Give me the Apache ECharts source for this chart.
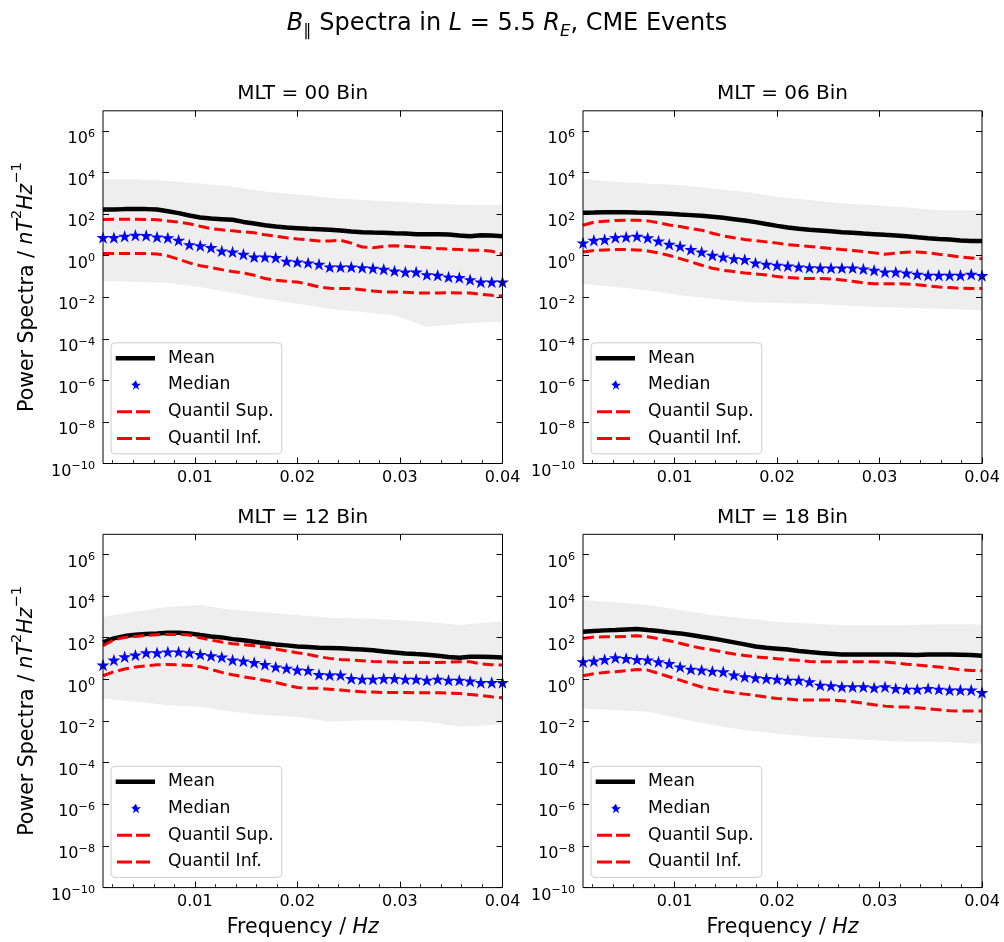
<!DOCTYPE html>
<html>
<head>
<meta charset="utf-8">
<script src="https://cdn.jsdelivr.net/npm/echarts@6/dist/echarts.min.js"></script>
<style>
  html, body { margin: 0; padding: 0; background: #ffffff; }
  #chart { width: 1004px; height: 942px; }
</style>
</head>
<body>
<div id="chart"></div>
<script>
// ---- Frequency bins (Hz) ----
const freq = [0.00105, 0.00211, 0.00316, 0.00421, 0.00526, 0.00632, 0.00737, 0.00842, 0.00947, 0.01053,
              0.01158, 0.01263, 0.01368, 0.01474, 0.01579, 0.01684, 0.01789, 0.01895, 0.02000, 0.02105,
              0.02211, 0.02316, 0.02421, 0.02526, 0.02632, 0.02737, 0.02842, 0.02947, 0.03053, 0.03158,
              0.03263, 0.03368, 0.03474, 0.03579, 0.03684, 0.03789, 0.03895, 0.04000];
// frequencies at which the envelope of the individual event spectra is sampled
const bandFreq = [0.00105, 0.00421, 0.00737, 0.01053, 0.01368, 0.01684, 0.02000,
                  0.02316, 0.02632, 0.02947, 0.03263, 0.03579, 0.03895, 0.04000];

// ---- Tick values / labels ----
const xMajorTicks = [0.01, 0.02, 0.03, 0.04];
const xMinorTicks = [0.002, 0.004, 0.006, 0.008, 0.012, 0.014, 0.016, 0.018, 0.022, 0.024, 0.026, 0.028,
                     0.032, 0.034, 0.036, 0.038];
const yTicks = [1e-10, 1e-8, 1e-6, 1e-4, 1e-2, 1, 1e2, 1e4, 1e6];
const mltBins = ['00', '06', '12', '18'];

// ---- MLT 00 ----
const mean00 = [166,166,173,173,173,166,138,111,85,68,61,57,53,42,35,29,25,22.5,21,19.5,18.7,17.4,16.2,14.5,13.4,12.9,12.5,12.0,11.6,10.8,10.8,10.8,10.4,9.3,8.6,9.6,9.3,8.6];
const median00 = [7.4,7.4,8.6,9.6,9.3,8.0,7.2,5.5,3.4,3.0,2.45,1.69,1.51,1.17,0.87,0.87,0.81,0.54,0.50,0.45,0.385,0.287,0.287,0.287,0.266,0.247,0.221,0.184,0.164,0.164,0.122,0.114,0.095,0.088,0.070,0.054,0.054,0.054];
const qSup00 = [55,57,57,57,55,53,47,41,34,26,20,17.4,15.6,13.9,12.5,10,8.6,7.2,6.4,5.7,5.1,5.1,5.5,4.0,2.6,2.4,2.8,3.0,2.8,2.6,2.45,2.2,2.1,1.96,1.82,1.82,1.63,1.17];
const qInf00 = [1.26,1.26,1.26,1.26,1.26,1.21,0.97,0.67,0.45,0.33,0.266,0.213,0.171,0.147,0.114,0.079,0.065,0.058,0.054,0.042,0.031,0.027,0.026,0.026,0.023,0.020,0.018,0.018,0.0172,0.016,0.016,0.016,0.0165,0.016,0.016,0.0138,0.0124,0.0115];
const envTop00 = [4700,4700,4000,2950,2040,1220,880,610,470,400,320,280,270,300];
const envLow00 = [0.061,0.054,0.049,0.031,0.016,0.0085,0.0049,0.0028,0.00195,0.00135,0.00037,0.00053,0.00065,0.00065];

// ---- MLT 06 ----
const mean06 = [115,119,124,124,124,119,115,111,103,95,89,82,74,66,57,49,41,33,27,22.5,19.5,17.4,16.2,15,13.4,12.5,11.6,10.8,10,9.3,8.6,7.7,6.9,6.4,6.0,5.3,5.1,5.1];
const median06 = [4.1,5.5,6.0,7.4,8.0,8.6,7.2,5.1,3.55,2.84,1.96,1.51,1.05,0.87,0.72,0.65,0.45,0.385,0.345,0.32,0.287,0.266,0.256,0.256,0.256,0.256,0.23,0.198,0.164,0.164,0.147,0.127,0.114,0.114,0.114,0.114,0.127,0.11];
const qSup06 = [29,41,45,49,51,51,47,38,30,25,20,16.8,12,8.9,7.2,6.0,5.3,4.6,4.0,3.4,3.06,2.74,2.45,2.19,1.96,1.76,1.57,1.36,1.17,1.31,1.46,1.51,1.36,1.17,1.01,0.87,0.78,0.70];
const qInf06 = [1.51,1.76,1.89,1.96,1.96,1.89,1.69,1.36,1.01,0.72,0.50,0.345,0.247,0.198,0.171,0.147,0.132,0.118,0.098,0.088,0.081,0.079,0.079,0.076,0.068,0.058,0.049,0.045,0.045,0.045,0.043,0.040,0.035,0.031,0.029,0.027,0.026,0.026];
const envTop06 = [4700,3580,2950,2470,1710,1180,680,470,320,270,207,154,154,143];
const envLow06 = [0.045,0.031,0.0215,0.0124,0.0085,0.0059,0.0053,0.0049,0.0041,0.0034,0.0031,0.0028,0.0025,0.0023];

// ---- MLT 12 ----
const mean12 = [60,93,120,140,151,162,175,175,162,135,116,104,86,75,64,54,48,43,38,36,33,32,31,29,27,25,22,19.8,17.7,16.4,15.3,13.7,11.8,11,12.2,12.2,11.8,11.4];
const median12 = [4.9,8.5,12.2,14.7,19,19,21,21,19,15.8,13.7,11.8,8.5,7.6,6.5,5.2,4.0,3.4,2.8,2.7,1.73,1.61,1.61,1.11,1.03,1.03,1.11,1.11,1.03,1.03,0.92,1.03,0.92,0.92,0.83,0.71,0.71,0.71];
const qSup12 = [41,80,104,116,130,140,145,145,135,100,77,62,52,46,41,36,29,23,19,15.8,12.2,10.2,9.1,8.5,7.9,7.3,7.0,6.8,6.5,6.5,6.5,6.5,6.8,7.0,7.0,5.6,5.1,4.9];
const qInf12 = [1.50,2.33,3.13,3.9,4.5,5.0,5.2,5.0,4.7,4.0,3.0,2.16,1.67,1.34,1.11,0.89,0.71,0.53,0.41,0.38,0.37,0.34,0.31,0.274,0.255,0.245,0.236,0.236,0.236,0.228,0.228,0.228,0.22,0.211,0.189,0.169,0.146,0.131];
const envTop12 = [1030,1780,3100,3730,2140,1660,1230,920,850,710,590,410,550,590];
const envLow12 = [0.122,0.084,0.058,0.048,0.028,0.019,0.016,0.0092,0.011,0.011,0.0092,0.0053,0.0064,0.0076];

// ---- MLT 18 ----
const mean18 = [195,210,226,234,252,262,234,210,181,162,135,112,93,75,60,48,38,33,30,27,23,20.5,18.4,17.1,15.8,15.8,15.8,15.8,15.8,15.8,15.3,14.7,15.8,15.8,15.8,15.3,14.7,13.7];
const median18 = [7.0,7.6,9.1,11,10.2,9.1,8.5,7.0,5.8,4.0,3.1,2.8,2.5,2.33,1.61,1.34,1.2,1.11,1.03,0.92,0.92,0.77,0.53,0.49,0.44,0.44,0.44,0.40,0.44,0.37,0.34,0.34,0.37,0.34,0.31,0.31,0.31,0.236];
const qSup18 = [93,108,112,112,116,125,112,90,72,54,40,31,25.6,20.5,16.4,14.2,12.2,11,9.8,8.8,8.2,7.3,7.0,7.0,7.0,7.0,7.0,7.0,6.8,6.1,5.4,4.9,4.4,3.9,3.4,2.9,2.7,2.6];
const qInf18 = [1.5,1.87,2.16,2.33,2.6,3.0,2.8,1.94,1.34,0.92,0.62,0.43,0.34,0.274,0.228,0.196,0.169,0.141,0.122,0.113,0.101,0.101,0.101,0.101,0.094,0.084,0.072,0.060,0.052,0.048,0.047,0.043,0.039,0.035,0.031,0.030,0.030,0.030];
const envTop18 = [6500,5000,3730,2140,1230,850,590,490,410,410,410,440,440,410];
const envLow18 = [0.040,0.033,0.028,0.0133,0.0064,0.0036,0.0025,0.00175,0.00145,0.0012,0.001,0.001,0.00083,0.00083];

// ---- assemble panels ----
const panels = [
  { mlt: mltBins[0], mean: mean00, median: median00, sup: qSup00, inf: qInf00, top: envTop00, low: envLow00 },
  { mlt: mltBins[1], mean: mean06, median: median06, sup: qSup06, inf: qInf06, top: envTop06, low: envLow06 },
  { mlt: mltBins[2], mean: mean12, median: median12, sup: qSup12, inf: qInf12, top: envTop12, low: envLow12 },
  { mlt: mltBins[3], mean: mean18, median: median18, sup: qSup18, inf: qInf18, top: envTop18, low: envLow18 }
];

const FONT = 'DejaVu Sans';
const X_MIN = freq[0], X_MAX = freq[freq.length - 1];
const Y_MIN = 1e-10, Y_MAX = 9.3e6;

const rects = [
  { left: 103, top: 110.8, width: 399.5, height: 352.7 },
  { left: 583, top: 110.8, width: 399.0, height: 352.7 },
  { left: 103, top: 534.3, width: 399.5, height: 353.3 },
  { left: 583, top: 534.3, width: 399.0, height: 353.3 }
];

// markers and legend handles (legend handles live in a 40 x 10 box)
const STAR = 'path://M50,0L61.2,34.5L97.6,34.5L68.2,55.9L79.4,90.5L50,69.1L20.6,90.5L31.8,55.9L2.4,34.5L38.8,34.5Z';
const BOX = 'M0,0L0,0M40,10L40,10';
const ICON_LINE = 'path://M0.7,2.75L40,2.75L40,7.25L0.7,7.25Z' + BOX;
const ICON_STAR = 'path://M21,0.2L22.19,3.86L26.04,3.86L22.93,6.13L24.12,9.79L21,7.53L17.88,9.79L19.07,6.13L15.96,3.86L17.81,3.86Z' + BOX;
const ICON_DASH = 'path://M2,3.5L17,3.5L17,6.5L2,6.5ZM21,3.5L35,3.5L35,6.5L21,6.5Z' + BOX;

function powLabel(v) {
  const e = Math.round(Math.log10(v));
  return '{b|10}{s|' + (e < 0 ? '\u2212' + (-e) : String(e)) + '}';
}

const tickRich = {
  b: { fontFamily: FONT, fontSize: 16, lineHeight: 16, padding: [8, 0, 0, 0], verticalAlign: 'top', color: '#000' },
  s: { fontFamily: FONT, fontSize: 11.2, lineHeight: 11, padding: [5.3, 0, 0, 0], verticalAlign: 'top', color: '#000' }
};

const grids = [], xAxes = [], yAxes = [], series = [], titles = [], legends = [];

const supRich = (extra) => Object.assign({ fontFamily: FONT, fontWeight: 'normal', color: '#000' }, extra);
titles.push({
  text: '{i|B}{p|\u2225}{t| Spectra in }{i|L}{t| = 5.5 }{i|R}{e|E}{t|, CME Events}',
  left: 507, top: 12, textAlign: 'center', padding: 0,
  textStyle: {
    fontWeight: 'normal',
    rich: {
      t: supRich({ fontSize: 24, lineHeight: 28, verticalAlign: 'top' }),
      i: supRich({ fontSize: 24, lineHeight: 28, verticalAlign: 'top', fontStyle: 'italic' }),
      p: supRich({ fontSize: 16.5, lineHeight: 17, verticalAlign: 'bottom' }),
      e: supRich({ fontSize: 16.5, lineHeight: 17, verticalAlign: 'bottom', fontStyle: 'italic' })
    }
  }
});

panels.forEach((P, p) => {
  const r = rects[p];
  const isLeft = p % 2 === 0, isBottom = p >= 2;

  grids.push({ left: r.left, top: r.top, width: r.width, height: r.height, show: true,
               borderColor: '#000', borderWidth: 1, backgroundColor: 'transparent', z: 6 });

  titles.push({
    text: 'MLT = ' + P.mlt + ' Bin', left: r.left + r.width / 2, top: r.top - 27, textAlign: 'center', padding: 0,
    textStyle: { fontFamily: FONT, fontSize: 20, lineHeight: 20, fontWeight: 'normal', color: '#000' }
  });

  // bottom axis: major ticks + labels
  xAxes.push({
    type: 'value', gridIndex: p, position: 'bottom', min: X_MIN, max: X_MAX, z: 6,
    axisLine: { show: false }, splitLine: { show: false },
    axisTick: { show: true, inside: true, length: 6, customValues: xMajorTicks, lineStyle: { color: '#000', width: 1 } },
    axisLabel: { show: true, customValues: xMajorTicks, formatter: v => v.toFixed(2), margin: 6,
                 fontFamily: FONT, fontSize: 16, color: '#000' },
    name: isBottom ? '{t|Frequency / }{i|Hz}' : '', nameLocation: 'middle', nameGap: 28,
    nameTextStyle: { rich: {
      t: { fontFamily: FONT, fontSize: 20.5, lineHeight: 24, color: '#000' },
      i: { fontFamily: FONT, fontSize: 20.5, lineHeight: 24, fontStyle: 'italic', color: '#000' } } }
  });
  // top axis: major ticks only
  xAxes.push({
    type: 'value', gridIndex: p, position: 'top', min: X_MIN, max: X_MAX, z: 6,
    axisLine: { show: false }, splitLine: { show: false }, axisLabel: { show: false },
    axisTick: { show: true, inside: true, length: 6, customValues: xMajorTicks, lineStyle: { color: '#000', width: 1 } }
  });

  yAxes.push({
    type: 'log', logBase: 10, gridIndex: p, position: 'left', min: Y_MIN, max: Y_MAX, z: 6,
    axisLine: { show: false }, splitLine: { show: false }, minorTick: { show: false },
    axisTick: { show: true, inside: true, length: 6, customValues: yTicks, lineStyle: { color: '#000', width: 1 } },
    axisLabel: { show: true, customValues: yTicks, formatter: powLabel, margin: 8, rich: tickRich },
    name: isLeft ? '{t|Power Spectra / }{i|nT}{s|2}{i|Hz}{s|\u22121}' : '',
    nameLocation: 'middle', nameRotate: 90, nameGap: 73,
    nameTextStyle: { rich: {
      t: { fontFamily: FONT, fontSize: 20.5, lineHeight: 20, padding: [7, 0, 0, 0], verticalAlign: 'top', color: '#000' },
      i: { fontFamily: FONT, fontSize: 20.5, lineHeight: 20, padding: [7, 0, 0, 0], verticalAlign: 'top', fontStyle: 'italic', color: '#000' },
      s: { fontFamily: FONT, fontSize: 14.5, lineHeight: 14, padding: [0, 0, 0, 0], verticalAlign: 'top', color: '#000' } } }
  });
  yAxes.push({
    type: 'log', logBase: 10, gridIndex: p, position: 'right', min: Y_MIN, max: Y_MAX, z: 6,
    axisLine: { show: false }, splitLine: { show: false }, minorTick: { show: false }, axisLabel: { show: false },
    axisTick: { show: true, inside: true, length: 6, customValues: yTicks, lineStyle: { color: '#000', width: 1 } }
  });

  const xi = 2 * p, yi = 2 * p;
  // envelope of the individual event spectra: grey down to the upper edge, white below the lower edge
  series.push({
    type: 'line', name: 'envelope', xAxisIndex: xi, yAxisIndex: yi,
    data: bandFreq.map((f, i) => [f, P.top[i]]), symbol: 'none', silent: true,
    lineStyle: { width: 0, opacity: 0 }, areaStyle: { color: '#eeeeee', opacity: 1, origin: 'start' }, z: 1
  });
  series.push({
    type: 'line', name: 'envelope-low', xAxisIndex: xi, yAxisIndex: yi,
    data: bandFreq.map((f, i) => [f, P.low[i]]), symbol: 'none', silent: true,
    lineStyle: { width: 0, opacity: 0 }, areaStyle: { color: '#ffffff', opacity: 1, origin: 'start' }, z: 1
  });
  series.push({
    type: 'line', name: 'Mean', xAxisIndex: xi, yAxisIndex: yi,
    data: freq.map((f, i) => [f, P.mean[i]]), symbol: 'none',
    lineStyle: { color: '#000000', width: 4.5 }, itemStyle: { color: '#000000' }, z: 3
  });
  series.push({
    type: 'scatter', name: 'Median', xAxisIndex: xi, yAxisIndex: yi,
    data: freq.map((f, i) => [f, P.median[i]]), symbol: STAR, symbolSize: 13, symbolKeepAspect: true,
    itemStyle: { color: '#0000ff', opacity: 1 }, z: 4
  });
  series.push({
    type: 'line', name: 'Quantil Sup.', xAxisIndex: xi, yAxisIndex: yi,
    data: freq.map((f, i) => [f, P.sup[i]]), symbol: 'none',
    lineStyle: { color: '#ff0000', width: 3, type: [11, 5] }, itemStyle: { color: '#ff0000' }, z: 5
  });
  series.push({
    type: 'line', name: 'Quantil Inf.', xAxisIndex: xi, yAxisIndex: yi,
    data: freq.map((f, i) => [f, P.inf[i]]), symbol: 'none',
    lineStyle: { color: '#ff0000', width: 3, type: [11, 5] }, itemStyle: { color: '#ff0000' }, z: 5
  });

  legends.push({
    left: r.left + 8, top: r.top + 232, orient: 'vertical', selectedMode: false,
    itemWidth: 40, itemHeight: 10, itemGap: 8.7, padding: [6.5, 8, 6.5, 4],
    backgroundColor: 'rgba(255,255,255,0.8)', borderColor: '#cccccc', borderWidth: 1, borderRadius: 4,
    itemStyle: { borderWidth: 0 },
    textStyle: { fontFamily: FONT, fontSize: 17.2, lineHeight: 18, color: '#000', padding: [0, 0, 0, 8] },
    data: [
      { name: 'Mean', icon: ICON_LINE },
      { name: 'Median', icon: ICON_STAR },
      { name: 'Quantil Sup.', icon: ICON_DASH },
      { name: 'Quantil Inf.', icon: ICON_DASH }
    ],
    z: 10
  });
});

// overlay grids carrying the minor ticks of the frequency axes
panels.forEach((P, p) => {
  const r = rects[p];
  grids.push({ left: r.left, top: r.top, width: r.width, height: r.height, show: false });
  xAxes.push({
    type: 'value', gridIndex: 4 + p, position: 'bottom', min: X_MIN, max: X_MAX, z: 6,
    axisLine: { show: false }, splitLine: { show: false }, axisLabel: { show: false },
    axisTick: { show: true, inside: true, length: 3.5, customValues: xMinorTicks, lineStyle: { color: '#000', width: 0.8 } }
  });
  yAxes.push({ type: 'value', gridIndex: 4 + p, show: false, min: 0, max: 1 });
});

const chart = echarts.init(document.getElementById('chart'), null, { renderer: 'canvas' });
chart.setOption({
  backgroundColor: '#ffffff',
  animation: false,
  textStyle: { fontFamily: FONT },
  title: titles,
  legend: legends,
  grid: grids,
  xAxis: xAxes,
  yAxis: yAxes,
  series: series
});
</script>
</body>
</html>
